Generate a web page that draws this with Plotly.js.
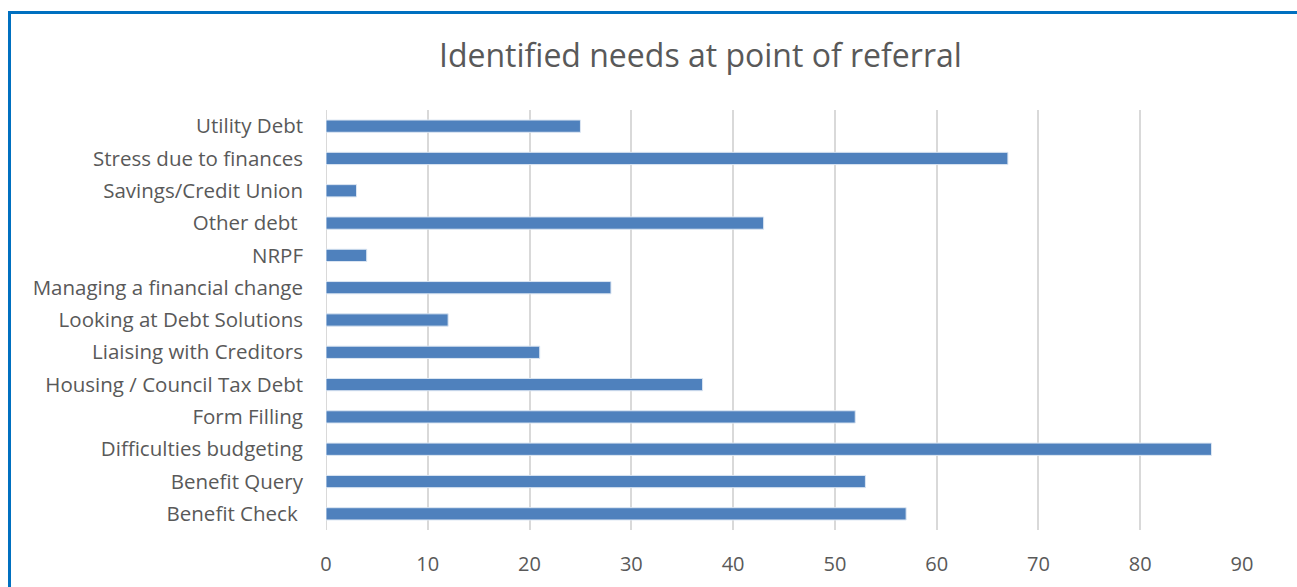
<!DOCTYPE html>
<html>
<head>
<meta charset="utf-8">
<script src="https://cdn.plot.ly/plotly-3.0.1.min.js"></script>
<style>
html,body{margin:0;padding:0;background:#fff;overflow:hidden;}
#chart{width:1297px;height:587px;}
#frame{position:absolute;left:8px;top:11px;width:1400px;height:700px;border-top:3px solid #0070C0;border-left:3px solid #0070C0;pointer-events:none;}
</style>
</head>
<body>
<div id="chart"></div>
<div id="frame"></div>
<script>
const categories = ["Benefit Check ", "Benefit Query", "Difficulties budgeting", "Form Filling", "Housing / Council Tax Debt", "Liaising with Creditors", "Looking at Debt Solutions", "Managing a financial change", "NRPF", "Other debt ", "Savings/Credit Union", "Stress due to finances", "Utility Debt"];
const values = [57, 53, 87, 52, 37, 21, 12, 28, 4, 43, 3, 67, 25];
const xTicks = [0, 10, 20, 30, 40, 50, 60, 70, 80, 90];
const chartTitle = "Identified needs at point of referral";

const font = "'Open Sans', sans-serif";
Plotly.newPlot("chart", [{
  type: "bar",
  orientation: "h",
  y: categories,
  x: values,
  width: 0.38,
  marker: {color: "#4F81BD", line: {color: "#DCE6F2", width: 1}},
  hoverinfo: "x+y"
}], {
  width: 1297, height: 587,
  margin: {l: 326, r: 55, t: 110, b: 57},
  paper_bgcolor: "#fff", plot_bgcolor: "#fff",
  showlegend: false,
  title: {text: chartTitle, x: 0.54, xanchor: "center", y: 0.905, yanchor: "middle",
          font: {family: font, size: 32, color: "#595959"}},
  xaxis: {range: [0, 90], tickvals: xTicks, ticktext: xTicks.map(String),
          showgrid: true, gridcolor: "#D9D9D9", gridwidth: 2, zeroline: false,
          showline: false, ticks: "", ticklabelstandoff: 20,
          tickfont: {family: font, size: 20, color: "#595959"}},
  yaxis: {type: "category", categoryorder: "array", categoryarray: categories,
          range: [-0.5, 12.5],
          showgrid: false, zeroline: false, showline: false, ticks: "",
          ticklabelstandoff: 22,
          tickfont: {family: font, size: 20.5, color: "#595959"}},
  shapes: [{type: "line", xref: "x", yref: "paper", x0: 0, x1: 0, y0: 0, y1: 1,
            line: {color: "#D9D9D9", width: 2}, layer: "below"}]
}, {displayModeBar: false, staticPlot: true});
</script>
</body>
</html>
